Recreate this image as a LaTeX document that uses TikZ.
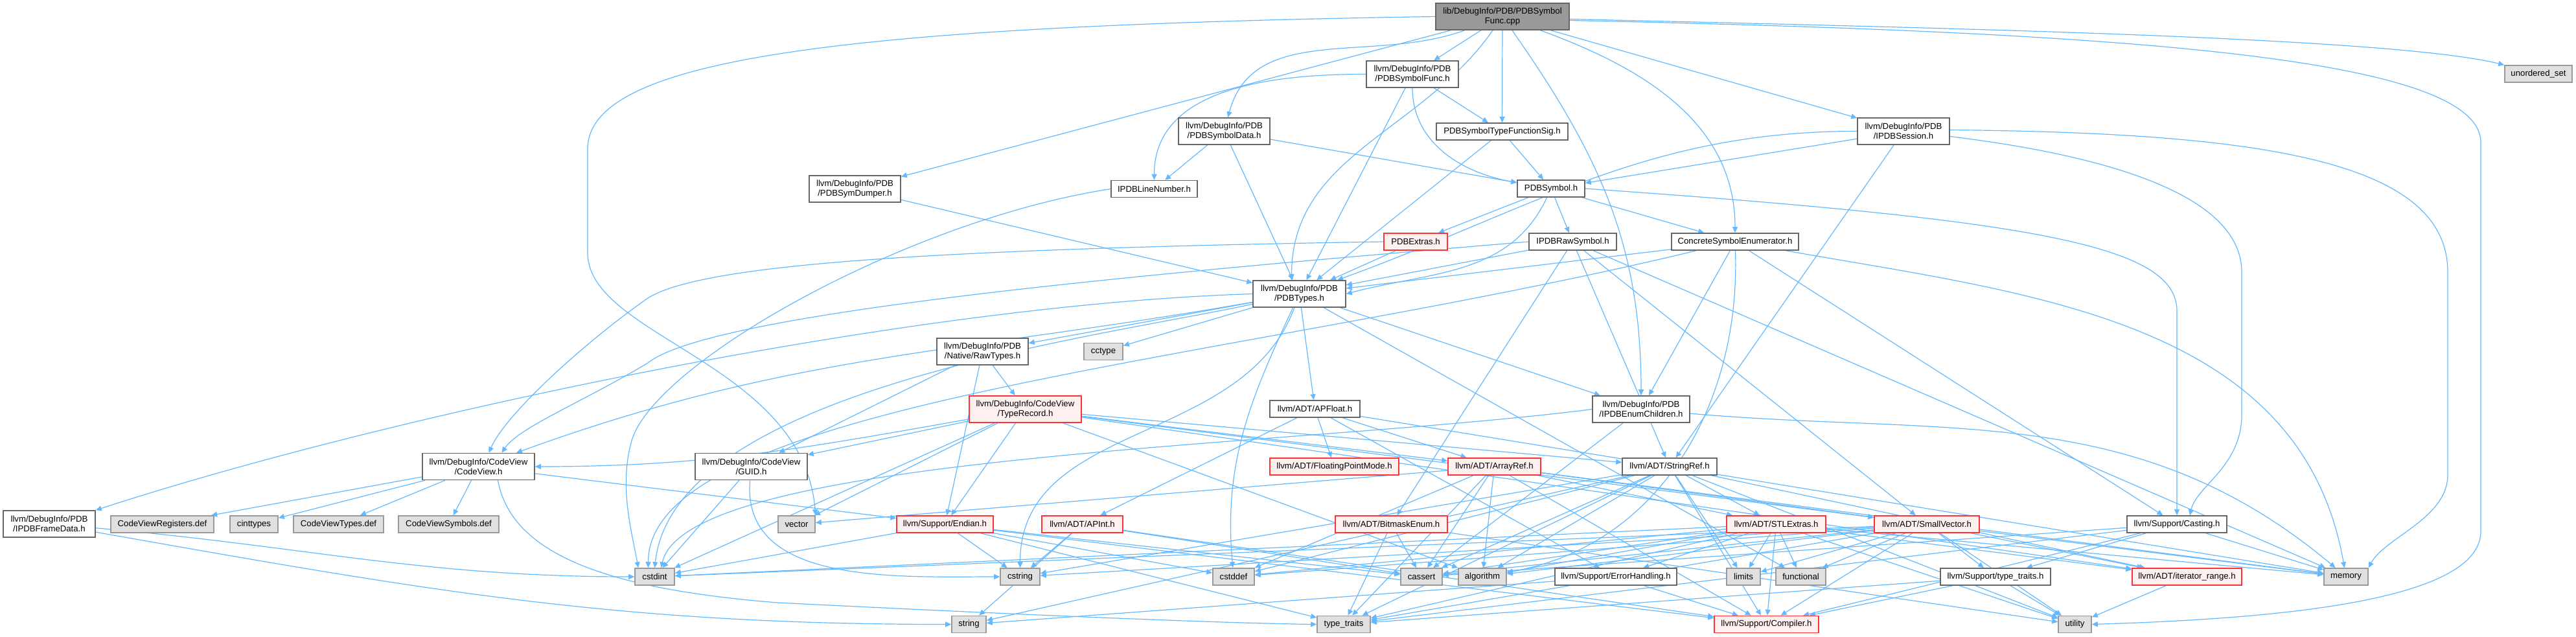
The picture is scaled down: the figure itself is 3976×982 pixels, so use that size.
\documentclass[tikz,border=0pt]{standalone}
\usepackage{fontspec}
\setmainfont{Liberation Sans}
\usetikzlibrary{arrows.meta}
\definecolor{edgec}{HTML}{63B8FF}
\definecolor{nbord}{HTML}{666666}
\definecolor{gbord}{HTML}{999999}
\definecolor{gfill}{HTML}{E0E0E0}
\definecolor{rbord}{HTML}{FF3333}
\definecolor{rfill}{HTML}{FFF0F0}
\definecolor{rootfill}{HTML}{999999}
\pgfdeclarelayer{bg}
\pgfsetlayers{bg,main}
\begin{document}
\begin{tikzpicture}[x=0.5pt,y=-0.5pt,
  base/.style={rectangle, inner sep=0pt, align=center, line width=0.8pt,
    font=\fontsize{6.6pt}{7.5pt}\selectfont},
  wn/.style={base, draw=nbord, fill=white},
  rn/.style={base, draw=rbord, fill=rfill},
  gn/.style={base, draw=gbord, fill=gfill},
  rootn/.style={base, draw=nbord, fill=rootfill},
  wd/.style={minimum width=#1*0.5pt},
  one/.style={minimum height=13pt},
  two/.style={minimum height=20.5pt},
  e/.style={draw=edgec, line width=0.6pt, -{Triangle[length=4.5pt,width=4pt]}}]
\useasboundingbox (0,0) rectangle (3976,982);
% nodes
\node[rootn, wd=206, two] (root) at (2319,25.5) {lib/DebugInfo/PDB/PDBSymbol\\Func.cpp};
\node[wn, wd=142, two] (psf) at (2180,114.5) {llvm/DebugInfo/PDB\\/PDBSymbolFunc.h};
\node[wn, wd=203, one] (pstfs) at (2318.5,203) {PDBSymbolTypeFunctionSig.h};
\node[wn, wd=141, two] (psd) at (1889.5,202.5) {llvm/DebugInfo/PDB\\/PDBSymbolData.h};
\node[wn, wd=141, two] (pdump) at (1319.5,291.5) {llvm/DebugInfo/PDB\\/PDBSymDumper.h};
\node[wn, wd=133, one] (ipln) at (1781.5,291.5) {IPDBLineNumber.h};
\node[wn, wd=104, one] (ps) at (2394,291) {PDBSymbol.h};
\node[wn, wd=142, two] (ises) at (2938,202.5) {llvm/DebugInfo/PDB\\/IPDBSession.h};
\node[gn, wd=104, one] (uset) at (3918,114) {unordered\_set};
\node[rn, wd=98, one] (pext) at (2185,373) {PDBExtras.h};
\node[wn, wd=135, one] (iraw) at (2427.5,373) {IPDBRawSymbol.h};
\node[wn, wd=196, one] (cse) at (2678,373) {ConcreteSymbolEnumerator.h};
\node[wn, wd=143, two] (ptypes) at (2005.5,453.5) {llvm/DebugInfo/PDB\\/PDBTypes.h};
\node[wn, wd=141, two] (raw) at (1516.5,542.5) {llvm/DebugInfo/PDB\\/Native/RawTypes.h};
\node[gn, wd=60, one] (cctype) at (1703,542.5) {cctype};
\node[rn, wd=173, two] (trec) at (1582.5,631.5) {llvm/DebugInfo/CodeView\\/TypeRecord.h};
\node[wn, wd=139, one] (apfloat) at (2029.5,631) {llvm/ADT/APFloat.h};
\node[wn, wd=150, two] (ienum) at (2533,631.5) {llvm/DebugInfo/PDB\\/IPDBEnumChildren.h};
\node[wn, wd=173, two] (cv) at (738.5,720) {llvm/DebugInfo/CodeView\\/CodeView.h};
\node[wn, wd=173, two] (guid) at (1159.5,720) {llvm/DebugInfo/CodeView\\/GUID.h};
\node[rn, wd=199, one] (fpm) at (2059.5,720) {llvm/ADT/FloatingPointMode.h};
\node[rn, wd=143, one] (arrayref) at (2306.5,720) {llvm/ADT/ArrayRef.h};
\node[wn, wd=146, one] (stringref) at (2577,720) {llvm/ADT/StringRef.h};
\node[wn, wd=142, two] (iframe) at (76,808.5) {llvm/DebugInfo/PDB\\/IPDBFrameData.h};
\node[gn, wd=159, one] (cvreg) at (250.5,809) {CodeViewRegisters.def};
\node[gn, wd=74, one] (cinttypes) at (392,809) {cinttypes};
\node[gn, wd=139, one] (cvtypes) at (522.5,809) {CodeViewTypes.def};
\node[gn, wd=155, one] (cvsym) at (692.5,809) {CodeViewSymbols.def};
\node[gn, wd=57, one] (vector) at (1229.5,809) {vector};
\node[rn, wd=149, one] (endian) at (1458.5,809) {llvm/Support/Endian.h};
\node[rn, wd=125, one] (apint) at (1670.5,809) {llvm/ADT/APInt.h};
\node[rn, wd=173, one] (bitmask) at (2147.5,809) {llvm/ADT/BitmaskEnum.h};
\node[rn, wd=153, one] (stlextras) at (2741.5,809) {llvm/ADT/STLExtras.h};
\node[rn, wd=162, one] (smallvector) at (2974,809) {llvm/ADT/SmallVector.h};
\node[wn, wd=154, one] (casting) at (3360,809) {llvm/Support/Casting.h};
\node[gn, wd=61, one] (cstdint) at (1010.5,890) {cstdint};
\node[gn, wd=61, one] (cstring) at (1574.5,890) {cstring};
\node[gn, wd=64, one] (cstddef) at (1904,890) {cstddef};
\node[gn, wd=64, one] (cassert) at (2194,890) {cassert};
\node[gn, wd=74, one] (algorithm) at (2288,890) {algorithm};
\node[wn, wd=188, one] (errh) at (2494,890) {llvm/Support/ErrorHandling.h};
\node[gn, wd=52, one] (limits) at (2691,890) {limits};
\node[gn, wd=77, one] (functional) at (2779.5,890) {functional};
\node[wn, wd=170, one] (sttraits) at (3080,890) {llvm/Support/type\_traits.h};
\node[rn, wd=169, one] (iterrange) at (3375.5,890) {llvm/ADT/iterator\_range.h};
\node[gn, wd=68, one] (memory) at (3621,890) {memory};
\node[gn, wd=53, one] (string) at (1495.5,963.5) {string};
\node[gn, wd=82, one] (tt) at (2074,963.5) {type\_traits};
\node[rn, wd=161, one] (compiler) at (2726.5,963.5) {llvm/Support/Compiler.h};
\node[gn, wd=51, one] (utility) at (3202.5,963.5) {utility};
% edges
\begin{pgfonlayer}{bg}
\foreach \s/\t in {root/psf, root/pstfs, root/pdump, root/ises,
  psf/pstfs, psf/ptypes, psd/ipln, psd/ps, psd/ptypes, pstfs/ps, pstfs/ptypes,
  pdump/ptypes, ps/pext, ps/iraw, ps/cse, ises/ps, ises/stringref,
  pext/ptypes, iraw/ptypes, iraw/smallvector, iraw/stringref, iraw/bitmask, iraw/memory,
  cse/ptypes, cse/ienum, cse/casting, ienum/cassert,
  ptypes/apfloat, ptypes/ienum, ptypes/raw, ptypes/cctype, ptypes/functional,
  raw/guid, raw/trec, raw/endian,
  trec/guid, trec/vector, trec/endian, trec/cstdint, trec/arrayref, trec/stringref,
  trec/smallvector, trec/iterrange, trec/algorithm,
  apfloat/apint, apfloat/arrayref, apfloat/fpm, apfloat/errh, apfloat/memory,
  cv/cvreg, cv/cinttypes, cv/cvtypes, cv/cvsym, cv/endian, guid/cstdint,
  endian/cstdint, endian/cstring, endian/cstddef, endian/cassert, endian/compiler, endian/tt,
  apint/cstring, apint/string, apint/compiler, apint/cassert,
  arrayref/algorithm, arrayref/cassert, arrayref/cstddef, arrayref/memory, arrayref/smallvector,
  arrayref/stlextras, arrayref/tt, arrayref/vector, arrayref/compiler,
  stringref/stlextras, stringref/iterrange, stringref/compiler, stringref/algorithm,
  stringref/cassert, stringref/cstddef, stringref/cstring, stringref/limits, stringref/string,
  stringref/tt, stringref/utility,
  bitmask/cassert, bitmask/tt, bitmask/utility,
  stlextras/cstdint, stlextras/cassert, stlextras/algorithm, stlextras/errh, stlextras/limits,
  stlextras/functional, stlextras/cstddef, stlextras/iterrange, stlextras/memory, stlextras/tt,
  stlextras/utility, stlextras/compiler,
  smallvector/cassert, smallvector/algorithm, smallvector/cstddef, smallvector/cstdint,
  smallvector/cstring, smallvector/limits, smallvector/functional, smallvector/sttraits,
  smallvector/compiler, smallvector/memory, smallvector/utility, smallvector/tt, smallvector/iterrange,
  casting/cassert, casting/sttraits, casting/memory, casting/compiler, casting/tt,
  sttraits/utility, sttraits/tt, sttraits/compiler, iterrange/utility,
  errh/compiler, errh/string}
  \draw[e] (\s) -- (\t);
% curved edges
\draw[e] ([yshift=-2pt]root.east) .. controls (3100,45) and (3700,60) .. (uset.north west);
\draw[e] ([yshift=-3pt]root.east) .. controls (3300,50) and (3829,90) .. (3829,220)
  -- (3829,820) .. controls (3829,930) and (3500,955) .. (utility.east);
\draw[e] (root.west) .. controls (1300,40) and (907,90) .. (907,230)
  -- (907,390) .. controls (907,520) and (1240,560) .. (vector.north east);
\draw[e] (root) to[out=200,in=75] (psd);
\draw[e] (root) to[out=235,in=90] ([xshift=-6pt]ptypes.north);
\draw[e] (root) to[out=-55,in=90] (ienum);
\draw[e] (root) to[out=-20,in=90] (cse);
\draw[e] (psf) to[out=180,in=90] (ipln);
\draw[e] (psf) to[out=-90,in=170] (ps);
\draw[e] (ipln.west) .. controls (1400,340) and (1010,560) .. (975,680)
  .. controls (955,750) and (975,820) .. ([xshift=3pt]cstdint.north west);
\draw[e] (ps) to[out=-115,in=15] (ptypes.east);
\draw[e] (ps.east) .. controls (3150,340) and (3360,380) .. (3360,480) -- (casting.north);
\draw[e] ([yshift=-4pt]ises.east) .. controls (3250,240) and (3460,300) .. (3460,420)
  -- (3460,640) .. controls (3460,720) and (3390,750) .. ([xshift=10pt]casting.north);
\draw[e] ([yshift=1pt]ises.east) .. controls (3500,205) and (3778,250) .. (3778,420)
  -- (3778,733) .. controls (3778,800) and (3680,830) .. (memory.north east);
\draw[e] (ises) to[out=180,in=20] (ptypes);
\draw[e] (ptypes) to[out=190,in=20] (cv);
\draw[e] (ptypes.west) .. controls (1400,470) and (600,640) .. (iframe.north east);
\draw[e] (ptypes) .. controls (1700,520) and (1040,600) .. (cstdint.north);
\draw[e] (ptypes) to[out=-110,in=90] (cstring);
\draw[e] (ptypes) to[out=-115,in=95] (cstddef);
\draw[e] (iraw.west) .. controls (1800,420) and (1100,480) .. (1000,560)
  .. controls (900,620) and (800,660) .. ([xshift=18pt]cv.north);
\draw[e] (pext.west) .. controls (1400,385) and (1080,410) .. (1000,460)
  .. controls (900,530) and (780,640) .. ([xshift=8pt]cv.north);
\draw[e] (trec) to[out=190,in=0] (cv);
\draw[e] ([xshift=-30pt]cse.south) .. controls (1900,560) and (1000,620) .. ([xshift=-5pt]cstdint.north);
\draw[e] (cse) to[out=-88,in=10] (algorithm);
\draw[e] (cse) to[out=-10,in=100] (memory);
\draw[e] (ienum.west) .. controls (2000,690) and (1060,700) .. ([xshift=5pt]cstdint.north);
\draw[e] (ienum) to[out=-5,in=140] (memory);
\draw[e] ([xshift=15pt]cv.south) .. controls (790,860) and (950,910) .. (1200,930)
  .. controls (1600,950) and (1900,962) .. (tt.west);
\draw[e] (iframe) to[out=-10,in=180] (string);
\draw[e] (iframe) to[out=-5,in=180] (cstdint);
\draw[e] (guid) to[out=-95,in=180] (cstring);
\end{pgfonlayer}
\end{tikzpicture}
\end{document}
